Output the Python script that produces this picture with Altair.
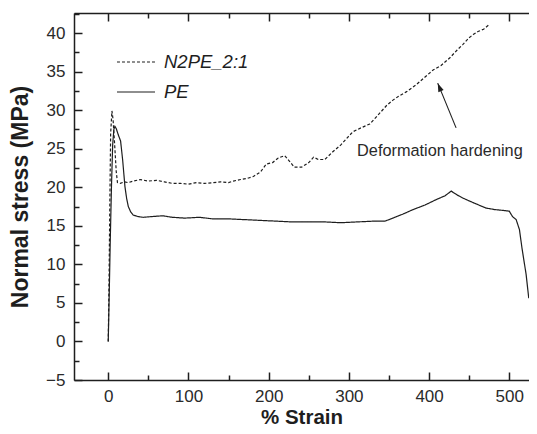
import altair as alt
import pandas as pd

# ---- data ----
n2pe_strain = [0, 1, 2, 3, 4.6, 6, 8, 10, 11.5, 15, 20, 25, 31, 40, 50, 60, 70, 80, 90, 100,
               110, 120, 131, 140, 150, 156, 165, 175, 181, 190, 197, 205, 212, 220, 225, 232,
               241, 250, 256, 262, 270, 280, 290, 305, 315, 326, 335, 347, 355, 362, 372, 384,
               395, 405, 415, 426, 435, 442, 450, 455, 461, 468, 475]
n2pe_stress = [0, 8, 18, 27, 29.9, 28.8, 25.5, 22, 20.6, 20.5, 20.7, 20.6, 20.8, 21.0, 20.8, 20.9,
               20.7, 20.5, 20.5, 20.4, 20.6, 20.5, 20.6, 20.7, 20.6, 20.8, 21.0, 21.2, 21.4, 22.0,
               23.0, 23.2, 23.8, 24.1, 23.5, 22.6, 22.6, 23.2, 23.9, 23.6, 23.6, 24.6, 25.5, 27.2,
               27.7, 28.2, 29.2, 30.6, 31.3, 31.8, 32.4, 33.3, 34.3, 35.2, 35.8, 36.8, 37.8, 38.5,
               39.4, 39.8, 40.2, 40.5, 41.1]

pe_strain = [0, 1, 2.5, 4, 5.5, 7, 8.3, 10, 12.5, 15.4, 18, 20.8, 23, 25, 28, 31, 37, 43.6, 55,
             68, 80, 95, 114, 130, 150, 170, 190, 210, 230, 250, 270, 290, 310, 330, 345, 355,
             367, 380, 395, 409, 420, 427.6, 435, 442, 455, 471, 482, 492, 500, 504, 508.6,
             512.7, 516, 521, 524.3]
pe_stress = [0, 5, 13, 20, 25.5, 27.5, 27.9, 27.6, 26.8, 26.0, 23.5, 20.1, 18.5, 17.5, 16.8, 16.4,
             16.2, 16.1, 16.2, 16.3, 16.1, 16.0, 16.1, 15.9, 15.9, 15.8, 15.7, 15.6, 15.5, 15.5,
             15.5, 15.4, 15.5, 15.6, 15.6, 16.0, 16.5, 17.1, 17.7, 18.4, 18.9, 19.5, 19.0, 18.6,
             18.0, 17.3, 17.1, 17.0, 16.9, 16.2, 15.8, 14.5, 12.0, 8.7, 5.6]

series_names = ["N2PE_2:1", "PE"]

x_major = [0, 100, 200, 300, 400, 500]
x_minor = [-50, 50, 150, 250, 350, 450]
y_major = [-5, 0, 5, 10, 15, 20, 25, 30, 35, 40]
y_minor = [-2.5, 2.5, 7.5, 12.5, 17.5, 22.5, 27.5, 32.5, 37.5, 42.5]

annot_text = ["Deformation hardening"]
annot_x = [413.5]
annot_y = [24.7]
arrow_tail_x = [433.7]
arrow_tail_y = [27.7]
arrow_tip_x = [410.8]
arrow_tip_y = [33.5]

x_domain = [-42.7, 524.6]
y_domain = [-5, 42.6]

# ---- tables ----
df = pd.concat([
    pd.DataFrame({"strain": n2pe_strain, "stress": n2pe_stress, "series": series_names[0]}),
    pd.DataFrame({"strain": pe_strain, "stress": pe_stress, "series": series_names[1]}),
], ignore_index=True)
ann = pd.DataFrame({"ax": annot_x, "ay": annot_y, "label": annot_text})
arr = pd.DataFrame({"x1": arrow_tail_x, "y1": arrow_tail_y, "x2": arrow_tip_x, "y2": arrow_tip_y})

FONT = "Liberation Sans"
INK = "#1e1e1e"
xs = alt.Scale(domain=x_domain, nice=False, zero=False)
ys = alt.Scale(domain=y_domain, nice=False, zero=False)

lines = alt.Chart(df).mark_line(strokeWidth=1.2, color=INK).encode(
    x=alt.X("strain:Q", scale=xs, axis=alt.Axis(
        values=x_major, title="% Strain", ticks=False, domain=True, domainColor=INK,
        domainWidth=1.5, grid=False,
        labelFontSize=17, labelFont=FONT, labelColor="#2a2a2a", labelPadding=8,
        titleFont=FONT, titleFontSize=20.5, titleFontWeight="bold", titleColor=INK,
        titlePadding=3, labelFlush=False)),
    y=alt.Y("stress:Q", scale=ys, axis=alt.Axis(
        values=y_major, title="Normal stress (MPa)", ticks=False, domain=True, domainColor=INK,
        domainWidth=1.5, grid=False,
        labelFontSize=17, labelFont=FONT, labelColor="#2a2a2a", labelPadding=9,
        titleFont=FONT, titleFontSize=23, titleFontWeight="bold", titleColor=INK,
        titlePadding=13, labelFlush=False)),
    strokeDash=alt.StrokeDash("series:N", scale=alt.Scale(domain=series_names, range=[[3, 2], [1, 0]]),
                              legend=alt.Legend(title=None, orient="none", legendX=42, legendY=29,
                                                symbolType="stroke", symbolSize=1450,
                                                symbolStrokeWidth=1.2, symbolStrokeColor=INK,
                                                labelFont=FONT, labelFontSize=18.5,
                                                labelFontStyle="italic", labelColor=INK,
                                                labelOffset=8, rowPadding=-3, padding=0)),
    order=alt.Order("strain:Q"),
)


def tick_layer(xo, yo, xv, yv, size):
    common = dict(labels=False, domain=False, grid=False, ticks=True, tickSize=size,
                  offset=-size, tickColor=INK, tickWidth=1.5, title=None)
    y_axis = alt.Axis(orient=yo, values=yv, **common) if yo else None
    return alt.Chart(df).mark_point(opacity=0).encode(
        x=alt.X("strain:Q", scale=xs, axis=alt.Axis(orient=xo, values=xv, **common)),
        y=alt.Y("stress:Q", scale=ys, axis=y_axis),
    )


t1 = tick_layer("bottom", "left", x_major, y_major, 8)
t2 = tick_layer("bottom", "left", x_minor, y_minor, 5)
t3 = tick_layer("top", None, x_major, y_major, 8)
t4 = tick_layer("top", None, x_minor, y_minor, 5)

top_frame = alt.Chart(df).mark_point(opacity=0).encode(
    x=alt.X("strain:Q", scale=xs, axis=alt.Axis(orient="top", labels=False, ticks=False, grid=False,
                                                domain=True, domainColor=INK, domainWidth=1.5,
                                                title=None)),
    y=alt.Y("stress:Q", scale=ys, axis=None),
)

text = alt.Chart(ann).mark_text(font=FONT, fontSize=16.3, color="#2a2a2a", baseline="middle").encode(
    x=alt.X("ax:Q", scale=xs, axis=None), y=alt.Y("ay:Q", scale=ys, axis=None), text="label:N")

rule = alt.Chart(arr).mark_rule(color=INK, strokeWidth=1.1).encode(
    x=alt.X("x1:Q", scale=xs, axis=None), y=alt.Y("y1:Q", scale=ys, axis=None),
    x2="x2:Q", y2="y2:Q")

head = alt.Chart(arr).mark_point(shape="M0,0L-0.33,1L0.33,1Z", filled=True, size=300,
                                 angle=337.8, color=INK, opacity=1).encode(
    x=alt.X("x2:Q", scale=xs, axis=None), y=alt.Y("y2:Q", scale=ys, axis=None))

chart = alt.layer(lines, t1, t2, t3, t4, top_frame, text, rule, head).resolve_axis(
    x="independent", y="independent"
).properties(
    width=455, height=367,
    autosize=alt.AutoSizeParams(type="none"),
    padding={"left": 66, "top": 5, "right": 0, "bottom": 46},
).configure_view(stroke=None).configure(background="white")

chart.save("out.html", embed_options={"renderer": "svg", "actions": False})
